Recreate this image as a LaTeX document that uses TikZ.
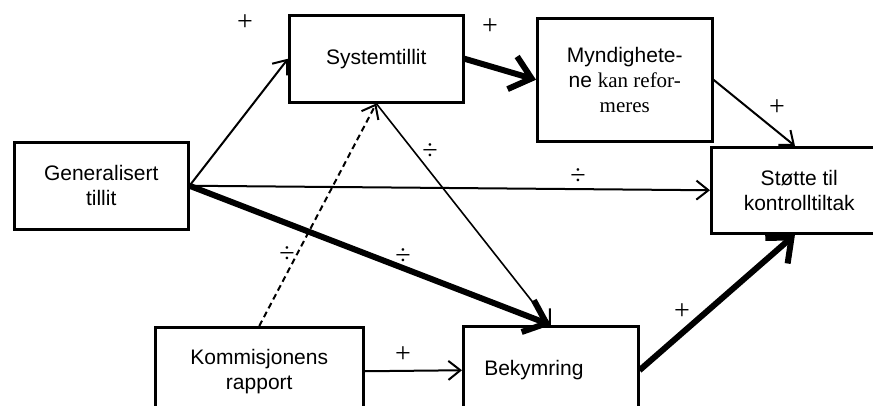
\documentclass[tikz,border=0pt]{standalone}
\usepackage{fontspec}
\setmainfont{Liberation Sans}
\newfontfamily\timesfont{Liberation Serif}
\usetikzlibrary{arrows.meta}

\begin{document}
\begin{tikzpicture}[x=1pt, y=-1pt,
  box/.style={draw, line width=2.5pt, minimum height=87pt, inner sep=0pt,
    align=center, anchor=north west, font=\fontsize{21}{25}\selectfont},
  link/.style={line width=2pt, -{Straight Barb[length=12pt, width=19pt, line width=2pt]}},
  heavy/.style={line width=6pt, -{Straight Barb[length=20pt, width=34pt, line width=6pt]}},
  sign/.style={font=\timesfont\fontsize{28}{28}\selectfont, inner sep=0pt}]
  \useasboundingbox (0,0) rectangle (873,405);
  % boxes
  \node[box, minimum width=174pt] (gen) at (13,141) {Generalisert\\tillit};
  \node[box, minimum width=174pt] (sys) at (288,14) {Systemtillit};
  \node[box, minimum width=175pt, minimum height=123pt] (myn) at (536,17)
    {Myndighete-\\ne {\timesfont kan refor-}\\{\timesfont meres}};
  \node[box, minimum width=176pt, minimum height=86pt] (stotte) at (710,146) {Støtte til\\kontrolltiltak};
  \node[box, minimum width=208pt, minimum height=88pt] (kom) at (154,326) {Kommisjonens\\rapport};
  \node[box, minimum height=88pt, text width=133pt, inner xsep=21pt, align=left] (bek) at (462,325) {Bekymring};
  % effects
  \draw[link] (gen.east) -- (sys.west);
  \draw[heavy] (sys.east) -- (myn.west);
  \draw[link] (myn.east) -- ([xshift=85pt]stotte.north west);
  \draw[link] (gen.east) -- (stotte.west);
  \draw[heavy] (gen.east) -- (bek.north);
  \draw[link, line width=1.6pt] (sys.south) -- (bek.north);
  \draw[link, dashed, dash pattern=on 6pt off 4pt] (kom.north) -- (sys.south);
  \draw[link] (kom.east) -- (bek.west);
  \draw[heavy] (bek.east) -- ([xshift=85pt]stotte.south west);
  % signs
  \foreach \x/\y/\s [count=\i] in {245/23/+, 490/27/+, 777/108/+, 578/177/÷, 430/152/÷,
    403/257/÷, 287/255/÷, 403/355/+, 682/312/+}
    \node[sign] (s\i) at (\x,\y) {\s};
\end{tikzpicture}
\end{document}
